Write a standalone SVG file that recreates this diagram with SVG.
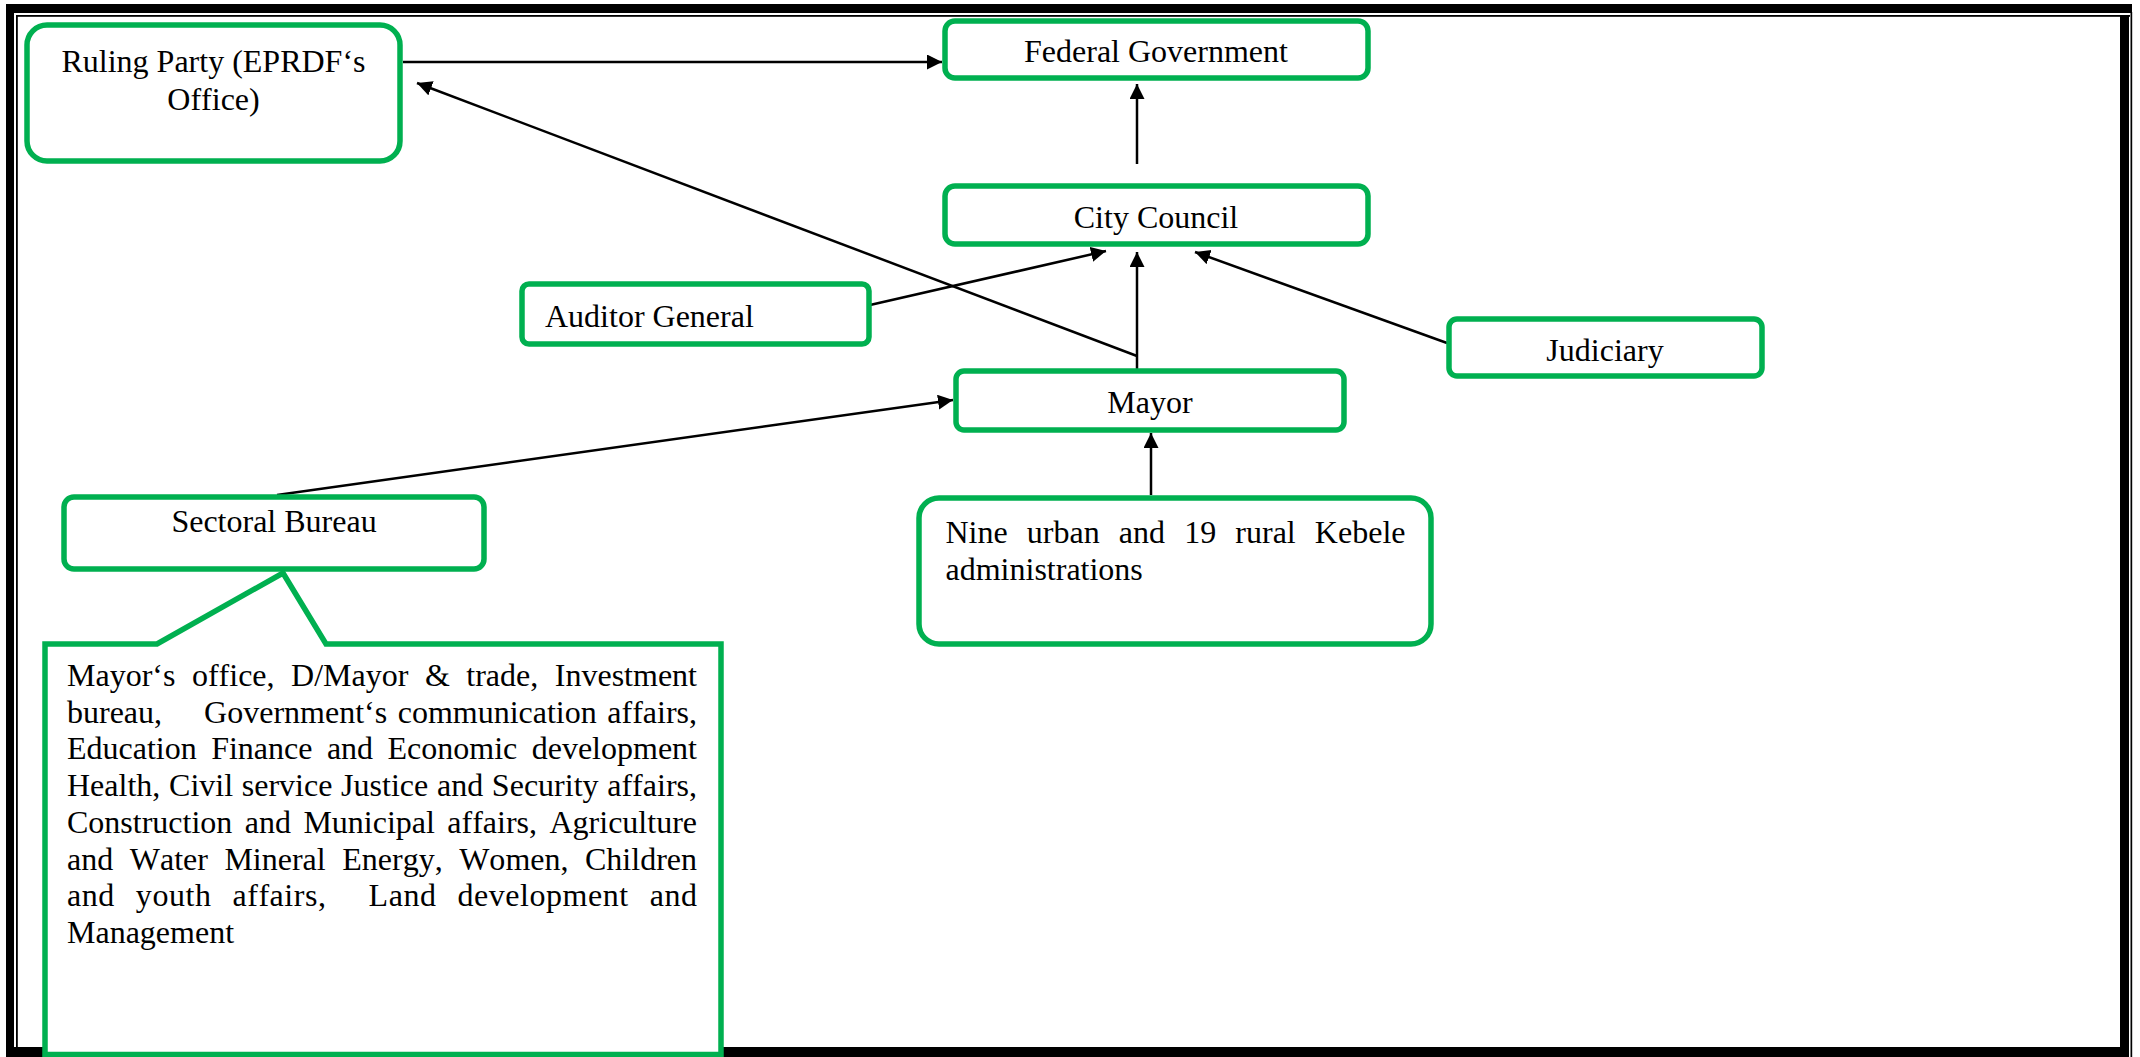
<svg xmlns="http://www.w3.org/2000/svg" width="2140" height="1057" viewBox="0 0 2140 1057">
<style>
  .box { fill: #ffffff; stroke: #00B050; stroke-width: 5.5; }
  .lbl { font-family: "Liberation Serif", "Times New Roman", serif; font-size: 32px; fill: #000000; font-kerning: none; }
  .mid { text-anchor: middle; }
  .pre { white-space: pre; }
  .edge { fill: none; stroke: #000000; stroke-width: 2.5; marker-end: url(#arrow); }
  .frame { fill: #000000; }
</style>
<defs>
  <marker id="arrow" markerUnits="userSpaceOnUse" markerWidth="16" markerHeight="16" refX="15" refY="7.5" orient="auto">
    <path d="M0,0 L15,7.5 L0,15 Z" fill="#000000"/>
  </marker>
</defs>
<rect x="0" y="0" width="2140" height="1057" fill="#ffffff"/>
<g id="page-border">
  <rect class="frame" x="6" y="4" width="2126" height="9"/>
  <rect class="frame" x="16" y="15" width="2114" height="1.8"/>
  <rect class="frame" x="6" y="4" width="8" height="1053"/>
  <rect class="frame" x="16" y="15" width="1.8" height="1032"/>
  <rect class="frame" x="2120" y="15" width="9" height="1042"/>
  <rect class="frame" x="2130.5" y="12" width="1.7" height="1045"/>
  <rect class="frame" x="14" y="1047" width="2115" height="10"/>
</g>
<g id="connectors">
  <line class="edge" x1="403" y1="62" x2="942" y2="62"/>
  <line class="edge" x1="1137" y1="164" x2="1137" y2="84"/>
  <line class="edge" x1="870" y1="305" x2="1106" y2="251"/>
  <line class="edge" x1="1137" y1="378" x2="1137" y2="252"/>
  <line class="edge" x1="1137" y1="356" x2="417" y2="83"/>
  <line class="edge" x1="1447" y1="343" x2="1195" y2="252"/>
  <line class="edge" x1="277" y1="495" x2="953" y2="400"/>
  <line class="edge" x1="1151" y1="495" x2="1151" y2="433"/>
</g>
<g id="ruling-party">
  <rect class="box" x="27" y="25" width="373" height="136" rx="20"/>
  <text class="lbl mid" x="213.5" y="72">Ruling Party (EPRDF‘s</text>
  <text class="lbl mid" x="213.5" y="110">Office)</text>
</g>
<g id="federal-government">
  <rect class="box" x="945" y="21" width="423" height="57" rx="10"/>
  <text class="lbl mid" x="1156" y="62">Federal Government</text>
</g>
<g id="city-council">
  <rect class="box" x="945" y="186" width="423" height="58" rx="10"/>
  <text class="lbl mid" x="1156" y="228">City Council</text>
</g>
<g id="auditor-general">
  <rect class="box" x="522" y="284" width="347" height="60" rx="7"/>
  <text class="lbl" x="545" y="327">Auditor General</text>
</g>
<g id="judiciary">
  <rect class="box" x="1449" y="319" width="313" height="57" rx="8"/>
  <text class="lbl mid" x="1605" y="361">Judiciary</text>
</g>
<g id="mayor">
  <rect class="box" x="956" y="371" width="388" height="59" rx="8"/>
  <text class="lbl mid" x="1150" y="413">Mayor</text>
</g>
<g id="sectoral-bureau">
  <rect class="box" x="64" y="497" width="420" height="72" rx="10"/>
  <text class="lbl mid" x="274" y="532">Sectoral Bureau</text>
</g>
<g id="kebele-administrations">
  <rect class="box" x="919" y="498" width="512" height="146" rx="20"/>
  <text class="lbl" x="945.5" y="543" word-spacing="11.1" textLength="460" lengthAdjust="spacing">Nine urban and 19 rural Kebele</text>
  <text class="lbl" x="945.5" y="580">administrations</text>
</g>
<g id="sector-list">
  <path class="box" d="M45,644 L157,644 L283,573 L326,644 L721,644 L721,1054.5 L45,1054.5 Z" stroke-linejoin="miter"/>
  <text class="lbl pre" x="67" y="686" word-spacing="8.5" textLength="630" lengthAdjust="spacing">Mayor‘s office, D/Mayor &amp; trade, Investment</text>
  <text class="lbl pre" x="67" y="722.7" word-spacing="2.5" textLength="630" lengthAdjust="spacing">bureau,    Government‘s communication affairs,</text>
  <text class="lbl pre" x="67" y="759.4" word-spacing="6.4" textLength="630" lengthAdjust="spacing">Education Finance and Economic development</text>
  <text class="lbl pre" x="67" y="796.1" word-spacing="0.7" textLength="630" lengthAdjust="spacing">Health, Civil service Justice and Security affairs,</text>
  <text class="lbl pre" x="67" y="832.8" word-spacing="4.4" textLength="630" lengthAdjust="spacing">Construction and Municipal affairs, Agriculture</text>
  <text class="lbl pre" x="67" y="869.5" word-spacing="8.5" textLength="630" lengthAdjust="spacing">and Water Mineral Energy, Women, Children</text>
  <text class="lbl pre" x="67" y="906.2" word-spacing="12.5" textLength="630" lengthAdjust="spacing">and youth affairs,  Land development and</text>
  <text class="lbl pre" x="67" y="942.9">Management</text>
</g>
</svg>
